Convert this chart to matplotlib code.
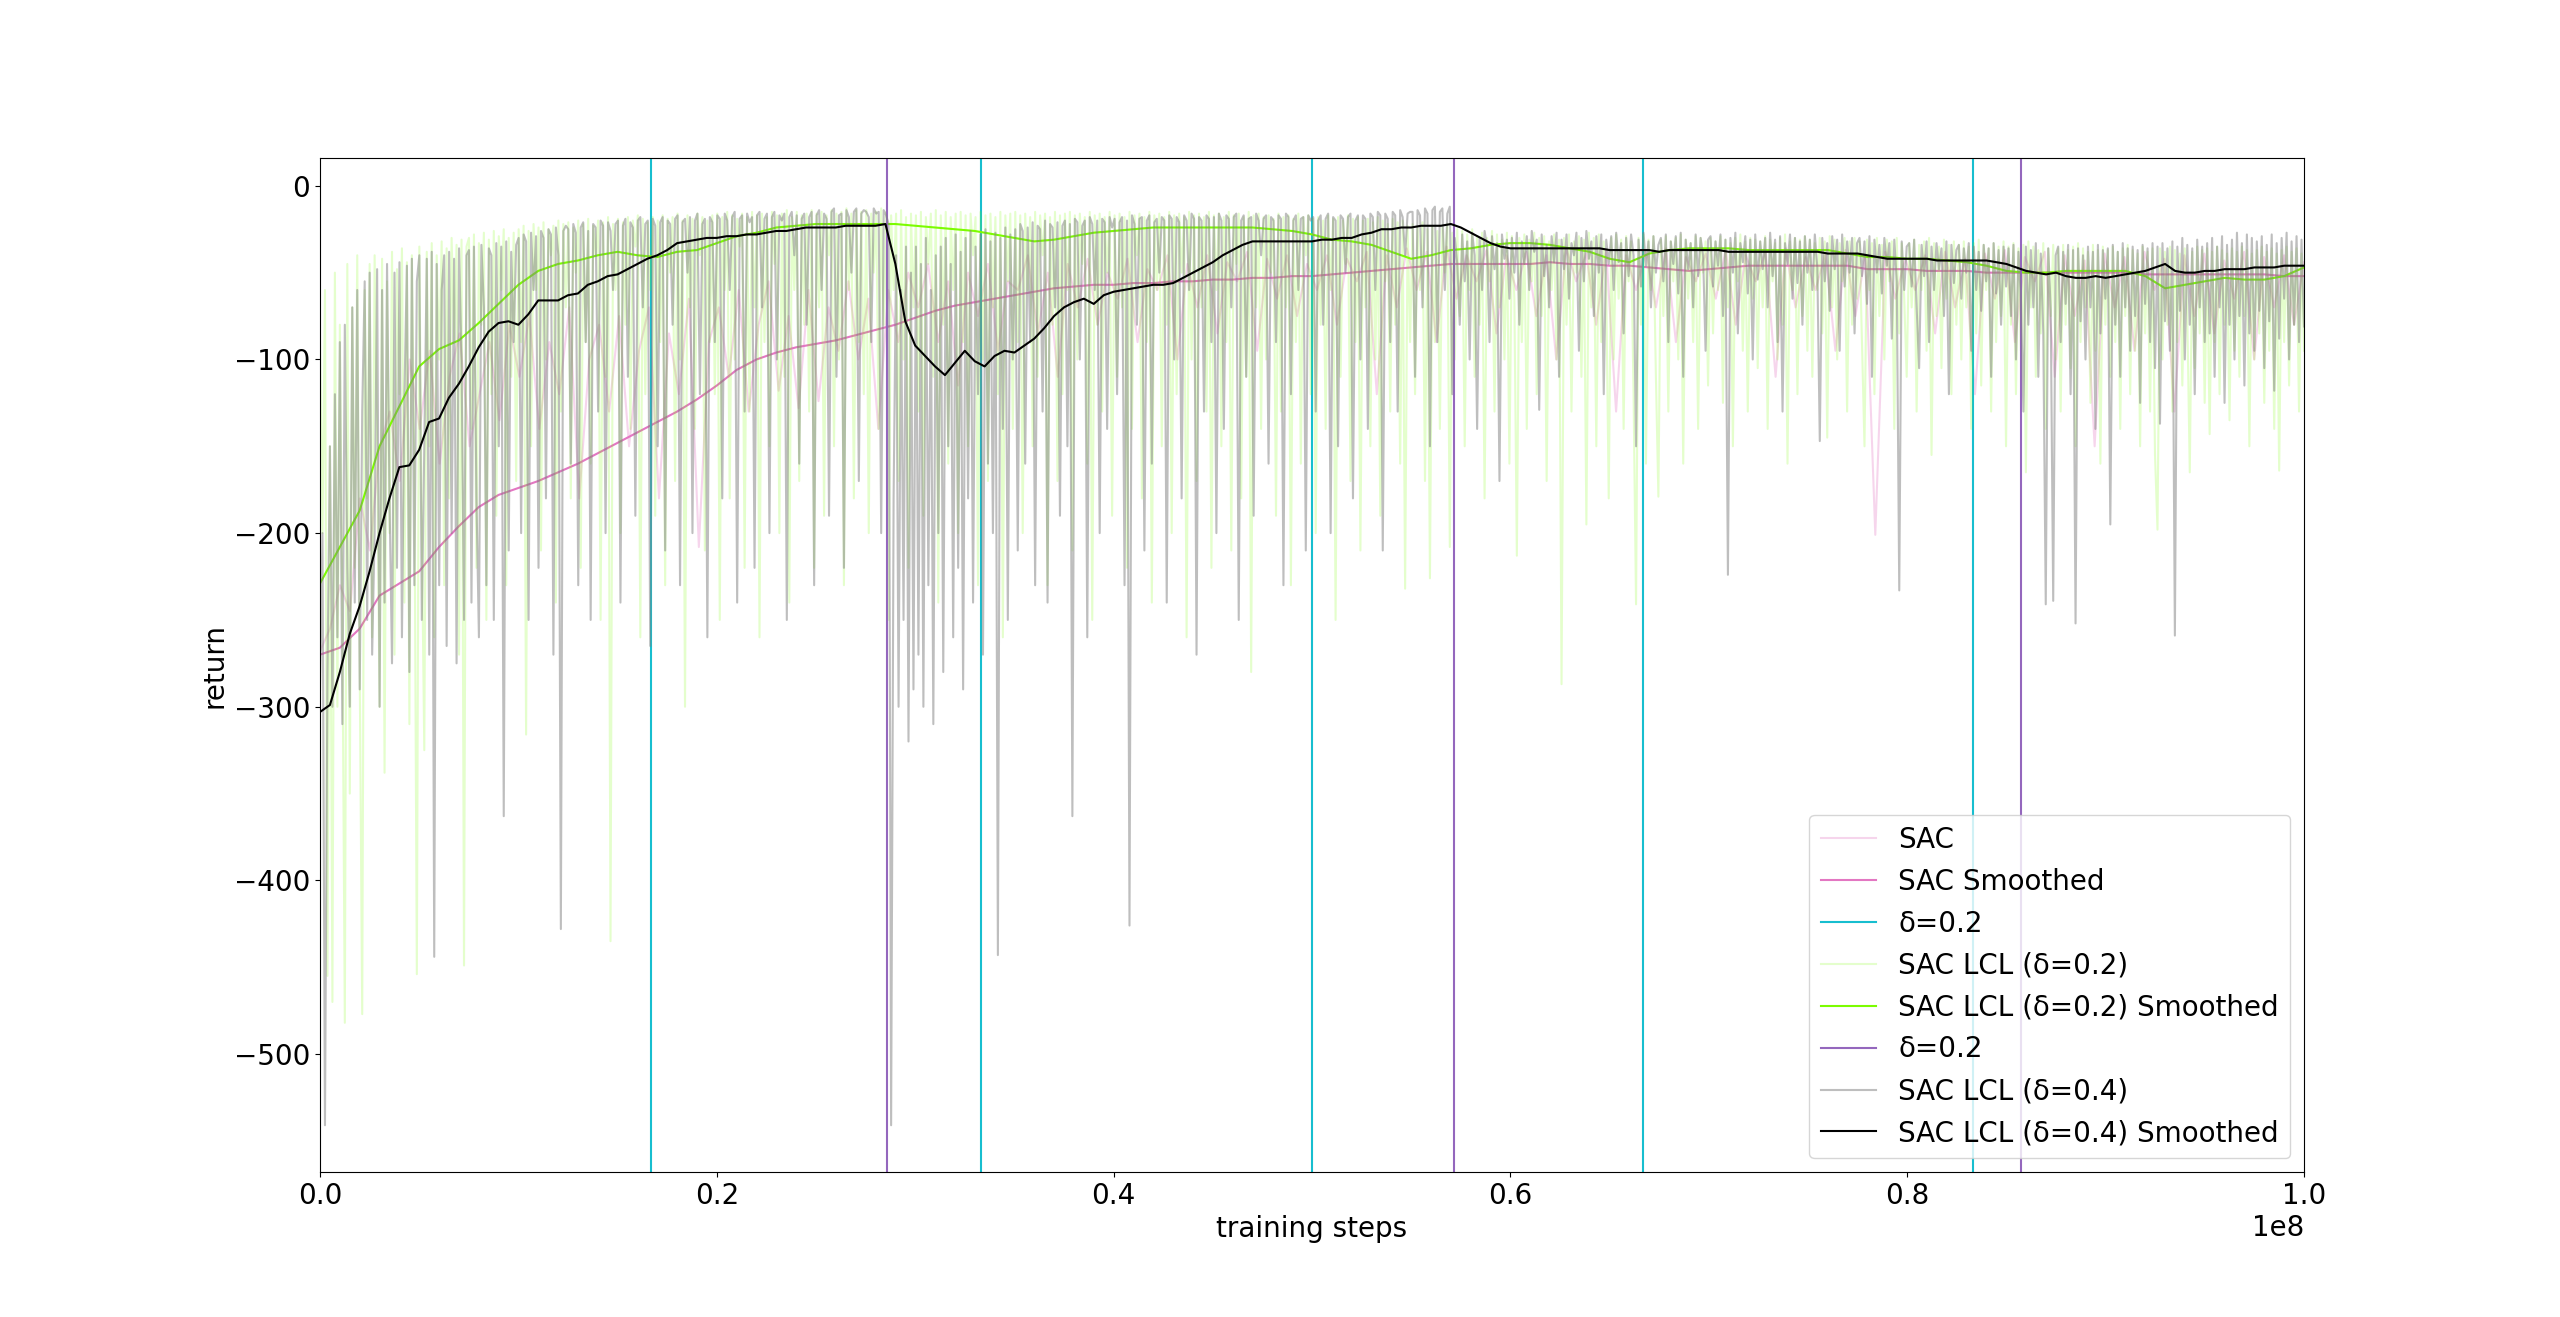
import numpy as np
import matplotlib
matplotlib.use("Agg")
import matplotlib.pyplot as plt

plt.rcParams["font.size"] = 20

# raw returns, evenly spaced evaluations over 1e8 steps
sac_raw = [
    -268, -255, -230, -245, -180, -210, -150, -130, -170, -100, -140, -95, -160, -110, -85, -150, -120, -90, -135, -80,
    -110, -75, -140, -90, -120, -70, -180, -100, -80, -130, -75, -150, -95, -70, -180, -85, -120, -65, -208, -90,
    -70, -110, -60, -130, -80, -55, -118, -75, -128, -60, -124, -70, -95, -55, -100, -65, -140, -60, -90, -50,
    -70, -45, -90, -55, -115, -50, -75, -45, -95, -55, -60, -40, -85, -50, -110, -45, -70, -42, -80, -50,
    -65, -42, -90, -48, -60, -40, -100, -45, -70, -40, -85, -44, -55, -38, -95, -42, -65, -40, -75, -45,
    -60, -40, -80, -42, -55, -38, -120, -40, -70, -36, -60, -38, -90, -35, -65, -40, -55, -37, -85, -40,
    -60, -38, -75, -40, -100, -36, -55, -39, -80, -37, -130, -40, -60, -38, -70, -36, -90, -41, -55, -39,
    -65, -37, -80, -40, -55, -38, -110, -36, -70, -41, -60, -39, -95, -37, -75, -40, -201, -38, -65, -42,
    -60, -40, -85, -38, -70, -42, -120, -39, -65, -37, -90, -41, -55, -38, -110, -40, -75, -43, -150, -39,
    -70, -41, -95, -38, -60, -42, -130, -40, -75, -39, -85, -43, -65, -38, -100, -41, -70, -40, -80, -44,
]

lcl02_raw = [
    -90, -200, -60, -455, -150, -470, -50, -300, -80, -250, -482, -45, -350, -70, -220, -40, -280, -477, -60, -180,
    -45, -260, -40, -150, -300, -42, -338, -55, -200, -38, -270, -48, -120, -36, -240, -44, -310, -40, -160, -454,
    -35, -200, -325, -38, -150, -33, -260, -40, -100, -32, -230, -36, -180, -30, -90, -34, -270, -31, -449, -35,
    -30, -140, -28, -220, -33, -80, -27, -250, -31, -120, -26, -190, -29, -60, -25, -230, -30, -110, -27, -170,
    -25, -90, -23, -316, -26, -150, -22, -60, -24, -210, -21, -100, -25, -40, -23, -240, -20, -130, -22, -70,
    -21, -180, -24, -50, -20, -220, -22, -90, -19, -160, -23, -40, -20, -250, -21, -110, -18, -435, -22, -60,
    -19, -200, -21, -80, -18, -140, -20, -35, -17, -260, -19, -120, -21, -60, -18, -190, -20, -90, -17, -230,
    -19, -50, -18, -170, -16, -100, -20, -300, -17, -70, -19, -140, -16, -40, -18, -210, -20, -90, -17, -120,
    -16, -250, -18, -60, -15, -180, -17, -100, -19, -35, -16, -220, -18, -130, -15, -70, -17, -260, -16, -90,
    -18, -150, -15, -45, -17, -200, -16, -110, -14, -240, -18, -60, -15, -170, -17, -80, -16, -130, -14, -220,
    -16, -70, -15, -190, -17, -40, -14, -150, -16, -100, -15, -230, -13, -60, -16, -180, -14, -90, -15, -120,
    -14, -200, -16, -50, -15, -140, -13, -80, -15, -250, -17, -60, -16, -170, -14, -100, -18, -220, -16, -70,
    -17, -130, -15, -190, -18, -45, -16, -110, -14, -240, -17, -80, -15, -160, -18, -60, -16, -200, -15, -90,
    -17, -150, -16, -40, -18, -230, -15, -100, -17, -170, -16, -70, -18, -120, -15, -260, -17, -55, -16, -140,
    -15, -90, -17, -200, -16, -60, -18, -150, -15, -110, -17, -40, -16, -230, -18, -80, -15, -170, -17, -120,
    -16, -60, -15, -210, -17, -100, -16, -45, -18, -160, -15, -250, -17, -80, -16, -130, -18, -50, -15, -190,
    -17, -110, -16, -70, -18, -220, -15, -140, -17, -40, -16, -180, -18, -90, -15, -240, -17, -60, -16, -150,
    -18, -80, -15, -200, -17, -120, -16, -50, -18, -260, -15, -100, -17, -170, -16, -70, -18, -130, -15, -220,
    -17, -60, -16, -150, -18, -90, -15, -210, -17, -45, -16, -180, -18, -110, -15, -280, -17, -70, -16, -140,
    -18, -100, -17, -50, -19, -190, -16, -130, -18, -70, -17, -230, -19, -90, -16, -160, -18, -40, -17, -120,
    -19, -200, -18, -80, -20, -140, -17, -60, -19, -250, -18, -110, -20, -45, -17, -170, -19, -90, -18, -210,
    -20, -70, -19, -150, -21, -100, -18, -190, -20, -55, -22, -130, -19, -80, -21, -160, -20, -232, -23, -90,
    -22, -120, -24, -60, -21, -170, -25, -226, -23, -90, -26, -140, -24, -50, -22, -208, -27, -100, -25, -75,
    -26, -150, -28, -60, -25, -110, -29, -80, -27, -180, -30, -55, -26, -130, -28, -70, -31, -100, -27, -160,
    -29, -65, -213, -30, -90, -28, -140, -31, -55, -27, -120, -30, -75, -29, -170, -32, -60, -28, -100, -31,
    -287, -30, -80, -28, -130, -32, -50, -29, -110, -31, -195, -27, -70, -30, -150, -28, -90, -32, -60, -180,
    -30, -100, -28, -65, -31, -140, -29, -55, -32, -120, -241, -30, -80, -28, -160, -31, -60, -29, -110, -179,
    -31, -75, -29, -130, -32, -55, -30, -100, -28, -160, -31, -65, -33, -90, -29, -140, -30, -50, -32, -115,
    -30, -85, -32, -60, -29, -125, -31, -70, -33, -150, -30, -55, -28, -95, -32, -130, -30, -65, -31, -105,
    -32, -70, -29, -140, -31, -55, -33, -100, -30, -80, -28, -160, -32, -60, -30, -120, -31, -75, -29, -95,
    -31, -110, -33, -60, -30, -85, -32, -145, -29, -70, -31, -100, -33, -55, -30, -130, -32, -80, -30, -65,
    -32, -90, -150, -31, -60, -33, -120, -30, -75, -34, -100, -31, -55, -32, -140, -30, -85, -33, -65, -110,
    -33, -70, -31, -130, -34, -60, -32, -95, -30, -155, -33, -75, -35, -105, -31, -65, -34, -120, -32, -80,
    -34, -100, -32, -70, -35, -140, -33, -85, -31, -115, -34, -60, -36, -130, -33, -90, -35, -75, -32, -150,
    -35, -80, -33, -120, -36, -95, -34, -165, -32, -70, -35, -110, -37, -85, -33, -140, -36, -75, -34, -100,
    -36, -130, -34, -80, -37, -105, -35, -150, -33, -90, -36, -70, -38, -125, -34, -95, -37, -160, -35, -80,
    -37, -110, -35, -90, -38, -140, -36, -75, -34, -120, -37, -95, -39, -150, -35, -85, -38, -130, -36, -155,
    -198, -36, -100, -38, -80, -35, -130, -37, -90, -39, -115, -36, -75, -165, -38, -105, -35, -85, -37, -125,
    -36, -143, -38, -90, -35, -120, -37, -80, -39, -135, -36, -95, -38, -110, -35, -75, -37, -150, -39, -100,
    -37, -85, -35, -125, -38, -95, -36, -140, -39, -164, -37, -90, -35, -115, -38, -80, -36, -130, -39, -95,
]

lcl04_raw = [
    -290, -200, -541, -280, -150, -300, -120, -260, -90, -310, -80, -220, -300, -70, -240, -60, -290, -130, -55, -250,
    -50, -270, -200, -48, -300, -60, -240, -45, -180, -275, -50, -220, -44, -260, -120, -46, -280, -42, -230, -55,
    -40, -250, -150, -42, -270, -38, -444, -45, -230, -60, -40, -265, -38, -200, -42, -275, -36, -100, -250, -40,
    -37, -240, -35, -180, -260, -34, -70, -230, -36, -40, -250, -33, -150, -35, -363, -32, -210, -38, -90, -34,
    -30, -200, -28, -32, -250, -27, -60, -29, -220, -26, -30, -180, -25, -28, -270, -24, -40, -428, -26, -23,
    -25, -160, -22, -27, -230, -24, -21, -90, -26, -250, -22, -24, -130, -20, -23, -200, -21, -26, -60, -22,
    -20, -240, -23, -19, -110, -21, -24, -190, -20, -18, -70, -22, -20, -265, -19, -23, -150, -21, -18, -210,
    -20, -22, -80, -19, -17, -230, -21, -19, -50, -18, -200, -20, -16, -120, -22, -19, -260, -18, -21, -90,
    -17, -19, -180, -16, -20, -60, -18, -15, -240, -19, -17, -130, -16, -21, -18, -220, -17, -15, -70, -19,
    -16, -200, -18, -15, -100, -17, -20, -16, -250, -18, -15, -40, -17, -160, -19, -16, -80, -18, -15, -230,
    -17, -14, -60, -16, -19, -190, -15, -13, -110, -17, -16, -220, -14, -18, -50, -15, -13, -170, -16, -14,
    -15, -18, -90, -13, -16, -15, -200, -14, -17, -22, -541, -180, -40, -300, -60, -250, -35, -320, -50, -290,
    -35, -270, -45, -300, -30, -230, -60, -310, -40, -200, -35, -280, -30, -150, -45, -260, -28, -220, -38, -290,
    -30, -180, -26, -240, -35, -120, -28, -270, -25, -160, -32, -200, -27, -443, -30, -140, -24, -250, -28, -100,
    -25, -210, -22, -26, -160, -24, -90, -21, -230, -23, -25, -130, -20, -240, -22, -24, -70, -21, -190, -23,
    -20, -150, -22, -363, -19, -21, -100, -23, -20, -260, -18, -22, -60, -20, -200, -19, -21, -140, -18, -24,
    -19, -120, -21, -18, -230, -20, -426, -17, -22, -80, -19, -18, -210, -20, -17, -160, -21, -19, -50, -18,
    -20, -240, -17, -19, -100, -18, -21, -180, -17, -20, -60, -16, -19, -270, -18, -20, -130, -17, -19, -90,
    -18, -200, -16, -20, -140, -17, -19, -70, -18, -16, -250, -20, -17, -110, -19, -18, -190, -16, -20, -40,
    -19, -17, -160, -18, -20, -90, -17, -19, -230, -16, -18, -120, -20, -17, -60, -19, -18, -210, -17, -20,
    -18, -130, -20, -17, -80, -19, -16, -200, -18, -20, -150, -17, -19, -50, -18, -16, -180, -20, -17, -100,
    -17, -19, -140, -16, -18, -60, -15, -17, -210, -16, -19, -90, -15, -17, -130, -14, -18, -40, -16, -15,
    -15, -110, -14, -17, -70, -13, -16, -150, -14, -12, -90, -15, -13, -60, -16, -12, -120, -30, -45, -80,
    -28, -55, -32, -100, -27, -40, -140, -30, -60, -26, -35, -90, -29, -48, -33, -170, -28, -42, -31, -65,
    -30, -50, -27, -80, -32, -45, -29, -60, -26, -38, -31, -129, -28, -52, -34, -70, -29, -44, -27, -110,
    -31, -48, -28, -65, -33, -40, -27, -95, -30, -55, -26, -42, -32, -75, -29, -50, -28, -120, -31, -45,
    -29, -60, -27, -44, -33, -85, -30, -52, -28, -40, -150, -31, -58, -27, -46, -32, -70, -29, -50, -34,
    -30, -55, -28, -90, -32, -45, -29, -62, -27, -110, -31, -48, -33, -70, -28, -52, -30, -40, -95, -31,
    -29, -58, -32, -46, -28, -75, -31, -224, -30, -50, -27, -85, -33, -44, -29, -62, -31, -100, -28, -54,
    -32, -48, -30, -70, -27, -52, -31, -90, -29, -130, -33, -45, -28, -65, -30, -56, -32, -80, -29, -50,
    -31, -60, -28, -47, -147, -30, -55, -33, -72, -29, -48, -31, -95, -28, -58, -32, -50, -30, -85, -33,
    -30, -52, -32, -68, -29, -110, -31, -50, -34, -62, -30, -46, -33, -88, -31, -55, -233, -32, -60, -35,
    -33, -58, -31, -70, -105, -34, -52, -32, -90, -35, -60, -33, -48, -36, -75, -32, -120, -34, -56, -37,
    -34, -65, -36, -50, -33, -95, -35, -60, -38, -72, -34, -55, -36, -110, -33, -62, -37, -80, -35, -58,
    -36, -75, -34, -100, -38, -65, -130, -35, -80, -37, -70, -33, -110, -39, -85, -241, -36, -72, -239, -40,
    -35, -90, -38, -68, -34, -120, -37, -252, -36, -78, -40, -100, -35, -70, -38, -140, -34, -85, -37, -65,
    -36, -195, -34, -80, -38, -110, -33, -70, -36, -95, -35, -75, -37, -125, -34, -68, -36, -90, -33, -105,
    -35, -137, -33, -78, -36, -95, -32, -259, -35, -72, -30, -100, -34, -80, -36, -120, -31, -70, -35, -90,
    -33, -85, -30, -110, -35, -70, -29, -125, -34, -80, -31, -100, -27, -75, -33, -115, -28, -85, -30, -95,
    -32, -72, -29, -105, -34, -78, -28, -118, -33, -88, -30, -65, -27, -100, -32, -80, -29, -90, -31, -81,
]

# smoothed curves
sac_smooth = [
    -270, -266, -255, -236, -229, -222, -208, -196, -185, -178,
    -174, -170, -165, -160, -154, -148, -142, -136, -130, -123,
    -115, -106, -100, -96, -93, -91, -89, -86, -83, -80,
    -76, -72, -69, -67, -65, -63, -61, -59, -58, -57,
    -57, -56, -56, -55, -55, -54, -54, -53, -53, -52,
    -52, -51, -50, -49, -48, -47, -46, -45, -45, -45,
    -45, -45, -44, -45, -45, -46, -46, -47, -48, -49,
    -48, -47, -46, -46, -46, -46, -46, -46, -48, -48,
    -48, -49, -49, -49, -50, -50, -50, -50, -50, -50,
    -50, -50, -51, -51, -51, -51, -51, -51, -51, -52, -52,
]

lcl02_smooth = [
    -229, -208, -187, -150, -127, -104, -94, -89, -79, -68,
    -57, -49, -45, -43, -40, -38, -40, -41, -38, -37,
    -33, -29, -27, -24, -23, -22, -22, -22, -22, -22,
    -23, -24, -25, -26, -28, -30, -32, -31, -29, -27,
    -26, -25, -24, -24, -24, -24, -24, -24, -25, -26,
    -28, -31, -32, -34, -38, -42, -40, -37, -36, -34,
    -33, -33, -34, -36, -38, -42, -44, -39, -37, -36,
    -36, -36, -37, -37, -37, -37, -37, -39, -41, -41,
    -42, -42, -43, -44, -46, -49, -50, -50, -49, -49,
    -49, -49, -52, -59, -57, -55, -53, -54, -54, -52, -47,
]

lcl04_smooth = [
    -303, -299, -280, -258, -242, -222, -200, -180, -162, -161,
    -152, -136, -134, -122, -114, -104, -93, -84, -79, -78,
    -80, -74, -66, -66, -66, -63, -62, -57, -55, -52,
    -51, -48, -45, -42, -40, -37, -33, -32, -31, -30,
    -30, -29, -29, -28, -28, -27, -26, -26, -25, -24,
    -24, -24, -24, -23, -23, -23, -23, -22, -45, -78,
    -92, -98, -104, -109, -102, -95, -101, -104, -98, -95,
    -96, -92, -88, -82, -75, -70, -67, -65, -68, -63,
    -61, -60, -59, -58, -57, -57, -56, -53, -50, -47,
    -44, -40, -37, -34, -32, -32, -32, -32, -32, -32,
    -32, -31, -31, -30, -30, -28, -27, -25, -25, -24,
    -24, -23, -23, -23, -22, -24, -27, -30, -33, -35,
    -36, -36, -36, -36, -36, -36, -36, -36, -36, -36,
    -37, -37, -37, -37, -37, -38, -37, -37, -37, -37,
    -37, -37, -38, -38, -38, -38, -38, -38, -38, -38,
    -38, -38, -39, -39, -39, -39, -40, -41, -42, -42,
    -42, -42, -42, -43, -43, -43, -43, -43, -43, -44,
    -45, -47, -49, -50, -51, -50, -52, -53, -53, -52,
    -53, -52, -51, -50, -49, -47, -45, -49, -50, -50,
    -49, -49, -48, -48, -48, -47, -47, -47, -46, -46,
    -46,
]

# curriculum switch points (training steps)
switch_02 = [16666667, 33333333, 50000000, 66666667, 83333333]
switch_04 = [28571429, 57142857, 85714286]

total_steps = 1e8


def steps(values):
    return np.linspace(0, total_steps, len(values))


fig, ax = plt.subplots(figsize=(25.6, 13.17), dpi=100)

ax.plot(steps(sac_raw), sac_raw, color="tab:pink", alpha=0.3, label="SAC")
ax.plot(steps(sac_smooth), sac_smooth, color="tab:pink", label="SAC Smoothed")
for i, s in enumerate(switch_02):
    ax.axvline(s, color="tab:cyan", label="δ=0.2" if i == 0 else None)

ax.plot(steps(lcl02_raw), lcl02_raw, color="lawngreen", alpha=0.2, label="SAC LCL (δ=0.2)")
ax.plot(steps(lcl02_smooth), lcl02_smooth, color="lawngreen", label="SAC LCL (δ=0.2) Smoothed")
for i, s in enumerate(switch_04):
    ax.axvline(s, color="tab:purple", label="δ=0.2" if i == 0 else None)

ax.plot(steps(lcl04_raw), lcl04_raw, color="tab:gray", alpha=0.5, label="SAC LCL (δ=0.4)")
ax.plot(steps(lcl04_smooth), lcl04_smooth, color="black", label="SAC LCL (δ=0.4) Smoothed")

ax.set_xlim(0, total_steps)
ax.set_ylim(-568, 16)
ax.set_xlabel("training steps")
ax.set_ylabel("return")
ax.legend(loc="lower right")

fig.savefig("out.png", dpi=100)
